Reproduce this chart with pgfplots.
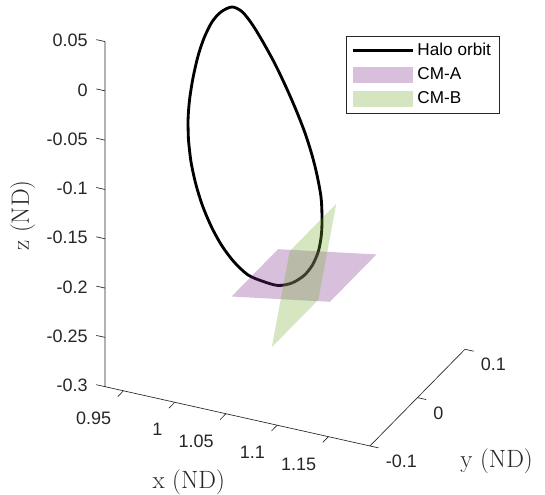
\documentclass[border=0pt]{standalone}
\usepackage{fontspec}
\setsansfont{Liberation Sans}
\usepackage{pgfplots}
\pgfplotsset{compat=1.18}
\definecolor{axgray}{RGB}{38,38,38}
\definecolor{cmA}{RGB}{126,47,142}
\definecolor{cmB}{RGB}{119,172,48}
\pgfplotsset{
  lineleg/.style={legend image code/.code={\draw[##1] (0pt,0pt) -- (36pt,0pt);}},
  patchleg/.style={legend image code/.code={\fill[##1] (0pt,-4.7pt) rectangle (36pt,4.7pt);}},
}

\begin{document}
\begin{tikzpicture}
\begin{axis}[
    x={(615pt,-137.64pt)}, y={(285pt,290.1pt)}, z={(0pt,591.6pt)},
    xmin=0.932, xmax=1.1905, ymin=-0.1, ymax=0.1, zmin=-0.3, zmax=0.05,
    axis line style={draw=none},
    xtick={0.95,1,1.05,1.1,1.15}, xticklabels={0.95,1,1.05,1.1,1.15},
    ytick={-0.1,0,0.1}, yticklabels={-0.1,0,0.1},
    ztick={-0.3,-0.25,-0.2,-0.15,-0.1,-0.05,0,0.05},
    zticklabels={-0.3,-0.25,-0.2,-0.15,-0.1,-0.05,0,0.05},
    major tick length=0pt, tick style={draw=none},
    ticklabel style={font=\fontsize{10.8}{12}\sffamily, text=axgray, inner sep=0pt},
    xticklabel style={anchor=north east, xshift=-7.2pt, yshift=-12.6pt},
    yticklabel style={anchor=north west, xshift=9.3pt, yshift=-5.2pt},
    zticklabel style={anchor=east, xshift=-10.2pt, yshift=0.6pt},
    every axis x label/.style={at={(axis description cs:0.2327,-0.073)}, anchor=center, font=\fontsize{15}{18}\selectfont, text=axgray},
    every axis y label/.style={at={(axis description cs:1.088,-0.031)}, anchor=center, font=\fontsize{15}{18}\selectfont, text=axgray},
    every axis z label/.style={at={(axis description cs:-0.229,0.46)}, anchor=center, rotate=90, font=\fontsize{15}{18}\selectfont, text=axgray},
    xlabel={x (ND)}, ylabel={y (ND)}, zlabel={z (ND)},
    clip=false, unbounded coords=jump,
    legend style={at={(axis description cs:0.6695,0.8186)}, anchor=north west,
      draw=axgray, line width=0.4pt, font=\fontsize{10.3}{11.5}\sffamily,
      inner xsep=3pt, inner ysep=2pt, row sep=1.9pt},
    legend cell align=left,
]
% axis lines
\addplot3[axgray, line width=0.4pt, forget plot] coordinates {
  (0.932,-0.1,0.05) (0.932,-0.1,-0.3) (1.1905,-0.1,-0.3) (1.1905,0.1,-0.3)};
% tick marks
\addplot3[axgray, line width=0.4pt, forget plot] coordinates {
  (0.95,-0.1,-0.3) (0.95,-0.112,-0.3) (nan,nan,nan)
  (1.00,-0.1,-0.3) (1.00,-0.112,-0.3) (nan,nan,nan)
  (1.05,-0.1,-0.3) (1.05,-0.112,-0.3) (nan,nan,nan)
  (1.10,-0.1,-0.3) (1.10,-0.112,-0.3) (nan,nan,nan)
  (1.15,-0.1,-0.3) (1.15,-0.112,-0.3) (nan,nan,nan)
  (1.1905,-0.1,-0.3) (1.199,-0.1,-0.3) (nan,nan,nan)
  (1.1905,0,-0.3) (1.199,0,-0.3) (nan,nan,nan)
  (1.1905,0.1,-0.3) (1.199,0.1,-0.3) (nan,nan,nan)
  (0.932,-0.1,-0.3) (0.9235,-0.1,-0.3) (nan,nan,nan)
  (0.932,-0.1,-0.25) (0.9235,-0.1,-0.25) (nan,nan,nan)
  (0.932,-0.1,-0.2) (0.9235,-0.1,-0.2) (nan,nan,nan)
  (0.932,-0.1,-0.15) (0.9235,-0.1,-0.15) (nan,nan,nan)
  (0.932,-0.1,-0.1) (0.9235,-0.1,-0.1) (nan,nan,nan)
  (0.932,-0.1,-0.05) (0.9235,-0.1,-0.05) (nan,nan,nan)
  (0.932,-0.1,0) (0.9235,-0.1,0) (nan,nan,nan)
  (0.932,-0.1,0.05) (0.9235,-0.1,0.05)};

% halo orbit
\addplot3[black, line width=1.7pt, smooth, tension=0.5, lineleg] coordinates {
  (0.9440,0.0498,-0.1205) (0.9465,0.0498,-0.1422) (0.9520,0.0485,-0.1636)
  (0.9600,0.0458,-0.1827) (0.9706,0.0419,-0.1996) (0.9827,0.0370,-0.2127)
  (0.9971,0.0311,-0.2226) (1.0138,0.0245,-0.2287) (1.0318,0.0174,-0.2276)
  (1.0498,0.0100,-0.2239) (1.0669,0.0027,-0.2138) (1.0819,-0.0045,-0.1992)
  (1.0932,-0.0111,-0.1827) (1.1018,-0.0170,-0.1636) (1.1070,-0.0219,-0.1427)
  (1.1093,-0.0258,-0.1220) (1.1096,-0.0285,-0.1014) (1.1063,-0.0298,-0.0792)
  (1.1014,-0.0298,-0.0600) (1.0940,-0.0285,-0.0401) (1.0840,-0.0258,-0.0204)
  (1.0724,-0.0219,-0.0017) (1.0594,-0.0170,0.0162) (1.0449,-0.0111,0.0323)
  (1.0311,-0.0045,0.0441) (1.0181,0.0027,0.0500) (1.0049,0.0100,0.0481)
  (0.9908,0.0174,0.0362) (0.9787,0.0245,0.0197) (0.9679,0.0311,-0.0023)
  (0.9593,0.0370,-0.0254) (0.9521,0.0419,-0.0518) (0.9469,0.0458,-0.0773)
  (0.9442,0.0485,-0.0995) (0.9440,0.0498,-0.1205)};
\addlegendentry{Halo orbit}

% CM-A plane
\addplot3[draw=none, fill=cmA, fill opacity=0.3, patchleg] coordinates {
  (1.0339,-0.0535,-0.2077) (1.0339,0.0445,-0.2077)
  (1.1299,0.0445,-0.1907) (1.1299,-0.0535,-0.1907)};
\addlegendentry{CM-A}

% CM-B plane
\addplot3[draw=none, fill=cmB, fill opacity=0.3, patchleg] coordinates {
  (1.0906,0.0445,-0.1485) (1.0732,0.0445,-0.2499)
  (1.0732,-0.0535,-0.2499) (1.0906,-0.0535,-0.1485)};
\addlegendentry{CM-B}

\coordinate (O) at (axis cs:0.932,-0.1,-0.3);
\end{axis}
\pgfresetboundingbox
\path[use as bounding box] ([shift={(-63pt,-65pt)}]O) rectangle ([shift={(264pt,232pt)}]O);
\end{tikzpicture}
\end{document}
